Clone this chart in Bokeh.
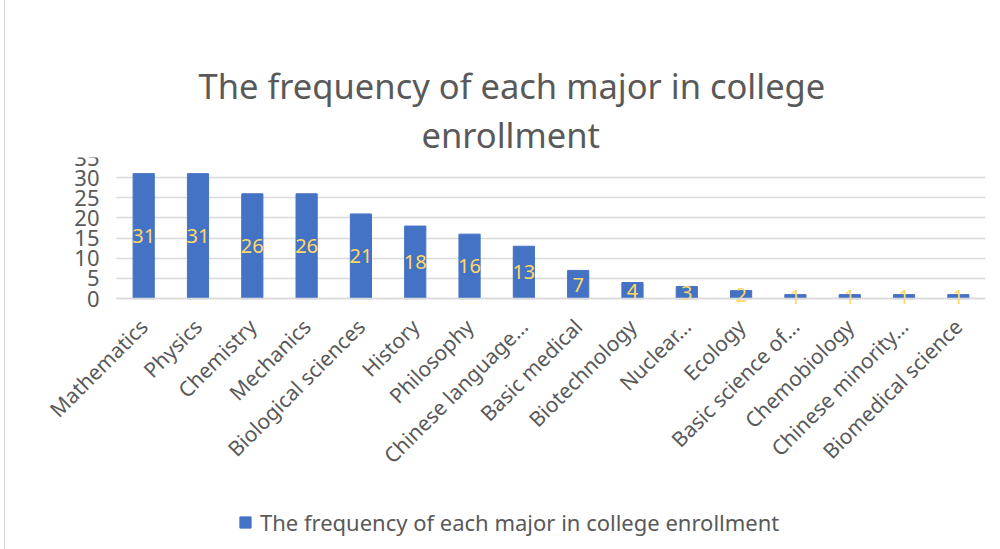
import math
from bokeh.plotting import figure
from bokeh.models import ColumnDataSource, Range1d, FixedTicker, Legend, LegendItem, Title
from bokeh.core.properties import value
from bokeh.embed import file_html
from bokeh.resources import INLINE

categories = ["Mathematics", "Physics", "Chemistry", "Mechanics", "Biological sciences",
              "History", "Philosophy", "Chinese language…", "Basic medical", "Biotechnology",
              "Nuclear…", "Ecology", "Basic science of…", "Chemobiology",
              "Chinese minority…", "Biomedical science"]
counts = [31, 31, 26, 26, 21, 18, 16, 13, 7, 4, 3, 2, 1, 1, 1, 1]
y_ticks = [0, 5, 10, 15, 20, 25, 30, 35]
series_name = "The frequency of each major in college enrollment"
title_lines = ["The frequency of each major in college", "enrollment"]

FONT = "Noto Sans"
TXT = "#595959"
Y_BOTTOM = -62.2     # room below zero for the category labels and legend
LEFT_ROOM = 1.4      # room left of the first band for the first rotated label

idx = list(range(len(categories)))
band_lo, band_hi = idx[0] - 0.5, idx[-1] + 0.5

src = ColumnDataSource(dict(x=idx, val=counts,
                            mid=[v / 2 for v in counts],
                            lbl=[str(v) for v in counts]))

p = figure(x_range=Range1d(band_lo - LEFT_ROOM, band_hi), y_range=Range1d(Y_BOTTOM, 35),
           frame_width=945, frame_height=392,
           output_backend="svg", toolbar_location=None,
           min_border_left=35, min_border_right=15, min_border_top=157,
           min_border_bottom=0)
p.title = None
p.styles = {"outline": "1px solid #d9d9d9", "margin-left": "5px"}

# horizontal gridlines limited to the category bands
grid = p.ygrid[0]
grid.grid_line_color = "#d9d9d9"
grid.grid_line_width = 1.3
if "cross_bounds" in grid.properties():
    grid.cross_bounds = (band_lo, band_hi)
else:
    grid.grid_line_color = None
    p.segment(x0=[band_lo] * len(y_ticks), x1=[band_hi] * len(y_ticks),
              y0=y_ticks, y1=y_ticks, line_color="#d9d9d9", line_width=1.3)
p.xgrid.grid_line_color = None

bars = p.vbar(x="x", top="val", bottom=0, width=0.39, source=src, color="#4472C4")
p.text(x="x", y="mid", text="lbl", source=src, text_align="center",
       text_baseline="middle", text_color="#FFD966", text_font=value(FONT),
       text_font_size="20px")

p.outline_line_color = None

p.yaxis.fixed_location = band_lo
p.yaxis.ticker = FixedTicker(ticks=y_ticks)
p.yaxis.axis_line_color = None
p.yaxis.major_tick_line_color = None
p.yaxis.minor_tick_line_color = None
p.yaxis.major_label_standoff = 11
p.yaxis.major_label_text_font = FONT
p.yaxis.major_label_text_font_size = "22px"
p.yaxis.major_label_text_color = TXT

p.xaxis.fixed_location = 0
p.xaxis.bounds = (band_lo, band_hi)
p.xaxis.ticker = FixedTicker(ticks=idx)
p.xaxis.major_label_overrides = {i: c for i, c in zip(idx, categories)}
p.xaxis.axis_line_color = "#d9d9d9"
p.xaxis.axis_line_width = 1.3
p.xaxis.major_tick_line_color = None
p.xaxis.minor_tick_line_color = None
p.xaxis.major_label_orientation = math.pi / 4
p.xaxis.major_label_standoff = 18
p.xaxis.major_label_text_font = FONT
p.xaxis.major_label_text_font_size = "21px"
p.xaxis.major_label_text_color = TXT

legend = Legend(items=[LegendItem(label=series_name, renderers=[bars])],
                orientation="horizontal", location=(198, 12),
                border_line_color=None, background_fill_alpha=0,
                label_text_font=FONT, label_text_font_size="22px",
                label_text_color=TXT, glyph_width=14, glyph_height=14,
                label_standoff=8, margin=0, padding=2, label_height=22)
p.add_layout(legend, "center")

t2 = Title(text=title_lines[1], align="left", offset=381, text_font=FONT,
           text_font_size="34.5px", text_font_style="normal", text_color=TXT, standoff=0)
t1 = Title(text=title_lines[0], align="left", offset=158, text_font=FONT,
           text_font_size="34.5px", text_font_style="normal", text_color=TXT, standoff=0,
           text_line_height=0.62)
spacer = Title(text=" ", text_font_size="1px", standoff=0)
p.add_layout(t2, "above")
p.add_layout(t1, "above")
p.add_layout(spacer, "above")

open("out.html", "w").write(file_html(p, INLINE))
